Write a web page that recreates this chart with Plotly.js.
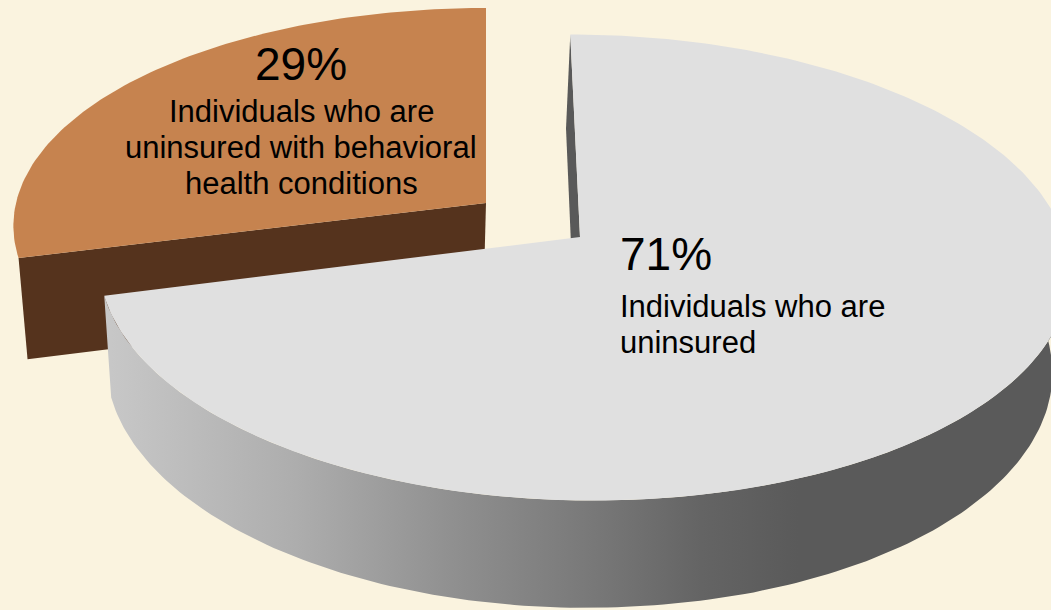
<!DOCTYPE html>
<html>
<head>
<meta charset="utf-8">
<script src="https://cdn.plot.ly/plotly-3.0.1.min.js"></script>
<style>
  html, body { margin: 0; padding: 0; background: #FAF3DF; }
  #chart { width: 1051px; height: 610px; }
</style>
</head>
<body>
<div id="chart"></div>
<script>
// ---- data ----
const categories = ["Individuals who are uninsured", "Individuals who are uninsured with behavioral health conditions"];
const shares = [71, 29];
const percentLabels = ["71%", "29%"];
const labelLines = [
  ["Individuals who are", "uninsured"],
  ["Individuals who are", "uninsured with behavioral", "health conditions"]
];

// ---- geometry / style (3-D perspective pie look) ----
const sliceStyle = [
  { cx: 580, cy: 237, aL: 478, aR: 484, b: 229, p: 0.131, sx: -11, depth: 100,
    top: "#E0E0E0", cut: "#595959", side: true },
  { cx: 486, cy: 203, aL: 470, aR: 470, b: 215.5, p: 0.105, sx: 0, depth: 100,
    top: "#C6834F", cut: "#55331D", side: false }
];
const vanish = { x: 377, y: 4300 };
const sideScale = [[0, "#C8C8C8"], [0.2, "#ADADAD"], [0.36, "#909090"], [0.52, "#767676"],
                   [0.62, "#646464"], [0.72, "#5A5A5A"], [1, "#5A5A5A"]];
const labelPos = [
  { x: 618, anchor: "left", pctBase: 270, lineBase: 317 },
  { x: 301, anchor: "center", pctBase: 80, lineBase: 122 }
];
const lineGap = 36, pctSize = 46, bodySize = 31;
const bg = "#FAF3DF";
const fontFam = "Liberation Sans, Arial, sans-serif";

// ---- projection helpers ----
function proj(s, deg) {
  const t = deg * Math.PI / 180;
  const u = Math.sin(t), v = Math.cos(t);
  const w = 1 + s.p * v;
  const a = u < 0 ? s.aL : s.aR;
  return { x: s.cx + (a * u + s.sx * v) / w, y: s.cy - (s.b * v) / w, w: w };
}
function extrude(s, pt) {
  const d = s.depth / Math.sqrt(pt.w);
  const dx = d * (vanish.x - pt.x) / (vanish.y - pt.y);
  return { x: pt.x + dx, y: pt.y + d, w: pt.w };
}
function arc(s, a0, a1) {
  const pts = [];
  const n = Math.max(8, Math.ceil(Math.abs(a1 - a0) / 1));
  for (let i = 0; i <= n; i++) pts.push(proj(s, a0 + (a1 - a0) * i / n));
  return pts;
}
function poly(pts, color, extra) {
  const tr = {
    type: "scatter", mode: "lines", fill: "toself",
    x: pts.map(p => p.x), y: pts.map(p => p.y),
    line: { width: 0, color: "rgba(0,0,0,0)" },
    fillcolor: color, hoverinfo: "skip", showlegend: false
  };
  return Object.assign(tr, extra || {});
}

const total = shares.reduce((a, b) => a + b, 0);
const angles = [];
let acc = 0;
shares.forEach(v => { const a0 = acc / total * 360; acc += v; angles.push([a0, acc / total * 360]); });

const back = [], front = [];
shares.forEach((v, i) => {
  const s = sliceStyle[i];
  const [a0, a1] = angles[i];
  const apex = { x: s.cx, y: s.cy, w: 1 };
  const rim = arc(s, a0, a1);
  const traces = [];
  if (!s.side) {
    // cut face along start edge (faces viewer)
    const r0 = proj(s, a0);
    traces.push(poly([apex, r0, extrude(s, r0), extrude(s, apex), apex], s.cut));
  } else {
    // thin cut face at start edge (12 o'clock)
    const r0 = proj(s, a0);
    traces.push(poly([apex, r0, extrude(s, r0), extrude(s, apex), apex], s.cut));
    // curved outer side
    const sideTop = arc(s, Math.max(a0, 90), a1);
    const sideBot = sideTop.map(p => extrude(s, p)).reverse();
    const pts = sideTop.concat(sideBot);
    pts.push(sideTop[0]);
    traces.push(poly(pts, "#8A8A8A", {
      fillgradient: { type: "horizontal", colorscale: sideScale,
                      start: proj(s, a1).x, stop: s.cx + s.aR * 1.008 }
    }));
  }
  const topPts = [apex].concat(rim).concat([apex]);
  traces.push(poly(topPts, s.top, { name: categories[i] }));
  if (s.side) front.push(...traces); else back.push(...traces);
});

// ---- labels ----
const annotations = [];
shares.forEach((v, i) => {
  const L = labelPos[i];
  annotations.push({
    xref: "x", yref: "y", x: L.x, y: L.pctBase - 0.905 * pctSize - 2,
    xanchor: L.anchor, yanchor: "top", showarrow: false,
    text: percentLabels[i], font: { family: fontFam, size: pctSize, color: "#000" }
  });
  labelLines[i].forEach((ln, k) => {
    annotations.push({
      xref: "x", yref: "y", x: L.x, y: L.lineBase + k * lineGap - 0.905 * bodySize - 2,
      xanchor: L.anchor, yanchor: "top", showarrow: false,
      text: ln, font: { family: fontFam, size: bodySize, color: "#000" }
    });
  });
});

const layout = {
  width: 1051, height: 610,
  margin: { l: 0, r: 0, t: 0, b: 0, pad: 0 },
  paper_bgcolor: bg, plot_bgcolor: bg,
  xaxis: { range: [0, 1051], visible: false, fixedrange: true },
  yaxis: { range: [610, 0], visible: false, fixedrange: true },
  showlegend: false,
  annotations: annotations
};

Plotly.newPlot("chart", back.concat(front), layout, { staticPlot: true, displayModeBar: false });
</script>
</body>
</html>
